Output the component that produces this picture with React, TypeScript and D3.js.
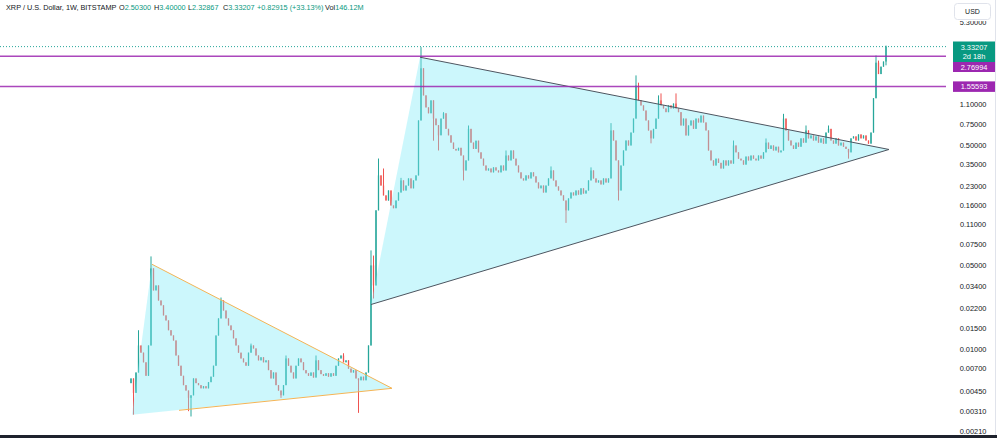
import React from 'react';
import * as d3 from 'd3';

// Weekly closes, XRP / USD (Bitstamp). Open of each bar is the previous close.
const closesA = [
  0.0058, 0.0044, 0.0065, 0.0109, 0.0095, 0.0079, 0.0061, 0.0109, 0.0477, 0.0313,
  0.0344, 0.0258, 0.0235, 0.0194, 0.0176, 0.0146, 0.0132, 0.012, 0.009, 0.0074,
  0.0061, 0.0051, 0.0046, 0.004, 0.0042, 0.0058, 0.0053, 0.0051, 0.0048, 0.005,
  0.0048, 0.0054, 0.006, 0.0074, 0.0132, 0.0183, 0.0258, 0.0213, 0.0183, 0.016,
  0.0146, 0.0125, 0.0109, 0.0095, 0.0085, 0.0079, 0.0074, 0.0095, 0.0109, 0.0103,
  0.009, 0.0082, 0.0087, 0.0079, 0.0082, 0.0068, 0.0058, 0.0065, 0.0051, 0.0046,
  0.0042, 0.0051, 0.0085, 0.0074, 0.0065, 0.0058, 0.0074, 0.0085, 0.0079, 0.0068,
  0.0064, 0.0061, 0.0065, 0.0059, 0.0082, 0.0068, 0.0063, 0.0061, 0.0064, 0.006,
  0.0064, 0.0061, 0.0074, 0.0085, 0.009, 0.0079, 0.0082, 0.007, 0.0065, 0.0068,
  0.0058, 0.0056, 0.006, 0.0056, 0.0065,
];
const closesB = [
  0.0109, 0.0505, 0.0344, 0.145, 0.283, 0.233, 0.193, 0.175, 0.212, 0.159,
  0.151, 0.175, 0.204, 0.257, 0.212, 0.233, 0.267, 0.221, 0.257, 0.283,
  0.81, 2.2, 1.31, 1.04, 0.93, 1.19, 0.84, 0.74, 0.61, 0.84,
  0.93, 0.69, 0.61, 0.53, 0.47, 0.456, 0.48, 0.414, 0.311, 0.377,
  0.69, 0.53, 0.47, 0.55, 0.44, 0.39, 0.342, 0.311, 0.323, 0.3,
  0.33, 0.311, 0.3, 0.342, 0.311, 0.414, 0.377, 0.456, 0.39, 0.342,
  0.3, 0.267, 0.257, 0.283, 0.267, 0.3, 0.278, 0.247, 0.221, 0.233,
  0.204, 0.233, 0.267, 0.311, 0.257, 0.229, 0.212, 0.193, 0.175, 0.145,
  0.182, 0.204, 0.193, 0.212, 0.196, 0.221, 0.2, 0.212, 0.257, 0.311,
  0.267, 0.247, 0.257, 0.238, 0.267, 0.247, 0.267,
];
const closesC = [
  0.669, 0.552, 0.377, 0.212, 0.342, 0.456, 0.552, 0.502, 0.643, 0.84,
  1.58, 1.19, 1.08, 0.98, 0.81, 0.669, 0.575, 0.69, 0.84, 1.19,
  1.08, 1.02, 0.95, 1.08, 1.02, 1.12, 1.02, 0.95, 0.736, 0.84,
  0.608, 0.736, 0.81, 0.69, 0.84, 0.78, 0.89, 0.78, 0.669, 0.456,
  0.377, 0.342, 0.39, 0.36, 0.323, 0.377, 0.342, 0.377, 0.355, 0.502,
  0.44, 0.39, 0.377, 0.348, 0.406, 0.377, 0.414, 0.39, 0.377, 0.414,
  0.39, 0.44, 0.53, 0.47, 0.502, 0.456, 0.49, 0.44, 0.456, 0.84,
  0.669, 0.552, 0.502, 0.47, 0.53, 0.49, 0.575, 0.53, 0.669, 0.575,
  0.608, 0.552, 0.597, 0.53, 0.575, 0.52, 0.643, 0.69, 0.552, 0.52,
  0.575, 0.502, 0.53, 0.49, 0.47, 0.44, 0.575, 0.597, 0.552, 0.62,
  0.575, 0.608, 0.552, 0.52, 0.643, 1.24, 2.45, 1.97, 2.27, 2.503,
  3.33207,
];
const firstOpen = 0.0053;

// Wick extremes beyond the bodies: [bar index, price]
const wickHighs: [number, number][] = [
  [3, 0.0146], [8, 0.06], [36, 0.0273], [48, 0.0113], [62, 0.009], [74, 0.009],
  [85, 0.0094], [96, 0.0673], [97, 0.061], [99, 0.391], [101, 0.323], [108, 0.27],
  [116, 3.3], [125, 0.95], [135, 0.736], [150, 0.456], [168, 0.336], [184, 0.33],
  [192, 0.77], [202, 1.92], [203, 1.67], [211, 1.31], [212, 1.36], [218, 1.36],
  [241, 0.552], [254, 0.574], [261, 0.92], [270, 0.736], [279, 0.736], [298, 2.81],
  [299, 2.55], [302, 3.4],
];
const wickLows: [number, number][] = [
  [1, 0.0029], [23, 0.0031], [24, 0.0028], [60, 0.004], [91, 0.003], [97, 0.0268],
  [121, 0.55], [123, 0.456], [133, 0.257], [174, 0.114], [195, 0.175], [208, 0.523],
  [287, 0.39], [302, 2.32867],
];

const priceTicks = [1.1, 0.75, 0.5, 0.35, 0.23, 0.16, 0.11, 0.075, 0.05, 0.034, 0.022, 0.015, 0.01, 0.007, 0.0045, 0.0031, 0.0021];
const levelLines = [2.76994, 1.55593];

// Triangle drawings, vertices as [bar index, price]
const triangleSmall: [number, number][] = [[0.4, 0.0029], [8.4, 0.0516], [104.4, 0.0048]];
const triangleSmallBaseStart: [number, number] = [19.2, 0.00315];
const triangleLarge: [number, number][] = [[96, 0.0239], [115.6, 2.72], [303.2, 0.465]];

const lastOpen = 2.503;
const lastHigh = 3.4;
const lastLow = 2.32867;
const lastClose = 3.33207;
const lastChange = 0.82915;
const lastChangePct = 33.13;
const lastVolume = '146.12M';
const barCountdown = '2d 18h';

const W = 997;
const H = 438;
const PANE_RIGHT = 946;
const UP = '#26a69a';
const DOWN = '#ef5350';
const TEXT = '#131722';
const GREEN = '#089981';
const PURPLE = '#9c27b0';
const TRI_FILL = 'rgba(128,235,248,0.4)';
const FONT = "'Liberation Sans', Arial, sans-serif";

export default function App() {
  const closes = [...closesA, ...closesB, ...closesC];
  const lastIdx = closes.length - 1;
  const x = d3.scaleLinear().domain([0, lastIdx]).range([131, 886]);
  const y = d3.scaleLog().domain([0.0021, 1.1]).range([431.5, 104.5]);

  const highMap = new Map(wickHighs);
  const lowMap = new Map(wickLows);
  const bars = closes.map((c, i) => {
    const o = i === 0 ? firstOpen : closes[i - 1];
    const h = Math.max(o, c, highMap.get(i) ?? 0);
    const l = Math.min(o, c, lowMap.get(i) ?? Infinity);
    return { i, o, h, l, c };
  });

  const pt = (p: [number, number]) => `${x(p[0])},${y(p[1])}`;
  const fmt = d3.format('.5f');
  const line = d3.line<[number, number]>().x((d) => x(d[0])).y((d) => y(d[1]));

  const hiddenTop = 5.3;

  return (
    <svg width={W} height={H} style={{ position: 'fixed', left: 0, top: 0, background: '#fff' }} fontFamily={FONT}>
      <rect x={0} y={0} width={W} height={H} fill="#fff" />

      {/* candles */}
      <g>
        {bars.map((b) => {
          const col = b.c >= b.o ? UP : DOWN;
          const top = y(Math.max(b.o, b.c));
          const bot = y(Math.min(b.o, b.c));
          return (
            <g key={b.i}>
              <line x1={x(b.i)} x2={x(b.i)} y1={y(b.h)} y2={y(b.l)} stroke={col} strokeWidth={1} />
              <rect x={x(b.i) - 0.65} y={top} width={1.3} height={Math.max(1, bot - top)} fill={col} />
            </g>
          );
        })}
      </g>

      {/* triangle drawings */}
      <polygon points={triangleSmall.map(pt).join(' ')} fill={TRI_FILL} />
      <polygon points={triangleLarge.map(pt).join(' ')} fill={TRI_FILL} />
      <path d={line([triangleSmall[1], triangleSmall[2]]) ?? ''} stroke="#f4b455" strokeWidth={1} fill="none" />
      <path d={line([triangleSmallBaseStart, triangleSmall[2]]) ?? ''} stroke="#f4b455" strokeWidth={1} fill="none" />
      <path d={line([triangleLarge[1], triangleLarge[2]]) ?? ''} stroke="#4d5560" strokeWidth={1} fill="none" />
      <path d={line([triangleLarge[0], triangleLarge[2]]) ?? ''} stroke="#4d5560" strokeWidth={1} fill="none" />

      {/* horizontal levels */}
      {levelLines.map((v) => (
        <line key={v} x1={0} x2={PANE_RIGHT} y1={y(v)} y2={y(v)} stroke={PURPLE} strokeWidth={1.5} strokeOpacity={0.85} />
      ))}
      {/* last price line */}
      <line x1={0} x2={PANE_RIGHT} y1={y(lastClose)} y2={y(lastClose)} stroke={UP} strokeWidth={1} strokeDasharray="1,2" />

      {/* price scale */}
      <g fontSize={7.4} fill={TEXT} textAnchor="middle">
        <text x={973} y={y(hiddenTop)} dominantBaseline="central">{fmt(hiddenTop)}</text>
        {priceTicks.map((v) => (
          <text key={v} x={973} y={y(v)} dominantBaseline="central">{fmt(v)}</text>
        ))}
      </g>

      {/* price labels */}
      <rect x={953} y={41.5} width={42} height={20.5} fill={GREEN} />
      <text x={974} y={47} fill="#fff" fontSize={7.4} textAnchor="middle" dominantBaseline="central">{fmt(lastClose)}</text>
      <text x={974} y={56.5} fill="#fff" fontSize={7.4} textAnchor="middle" dominantBaseline="central">{barCountdown}</text>
      <rect x={953} y={62} width={42} height={10} fill={PURPLE} />
      <text x={974} y={67} fill="#fff" fontSize={7.4} textAnchor="middle" dominantBaseline="central">{fmt(levelLines[0])}</text>
      <rect x={953} y={y(levelLines[1]) - 5} width={42} height={10.5} fill={PURPLE} />
      <text x={974} y={y(levelLines[1]) + 0.2} fill="#fff" fontSize={7.4} textAnchor="middle" dominantBaseline="central">{fmt(levelLines[1])}</text>

      {/* currency button over the top of the scale */}
      <rect x={947} y={0} width={48} height={21} fill="#fff" />
      <rect x={954.5} y={3.5} width={36} height={16} rx={3} fill="#fff" stroke="#e0e3eb" />
      <text x={972.5} y={11.8} fontSize={7} fill={TEXT} textAnchor="middle" dominantBaseline="central">USD</text>

      {/* legend */}
      <g fontSize={7.3} fill={TEXT}>
        <text x={6} y={10.3}>XRP / U.S. Dollar, 1W, BITSTAMP</text>
        <text x={119} y={10.3}>O<tspan fill={GREEN}>{fmt(lastOpen)}</tspan></text>
        <text x={154} y={10.3}>H<tspan fill={GREEN}>{fmt(lastHigh)}</tspan></text>
        <text x={188} y={10.3}>L<tspan fill={GREEN}>{fmt(lastLow)}</tspan></text>
        <text x={223} y={10.3}>C<tspan fill={GREEN}>{fmt(lastClose)}</tspan></text>
        <text x={257} y={10.3} fill={GREEN}>{`+${fmt(lastChange)} (+${lastChangePct.toFixed(2)}%)`}</text>
        <text x={325} y={10.3}>Vol<tspan fill={GREEN}>{lastVolume}</tspan></text>
      </g>

      {/* frame */}
      <line x1={995.5} x2={995.5} y1={0} y2={435} stroke="#e0e3eb" />
      <rect x={0} y={435} width={W} height={3} fill="#1e222d" />
    </svg>
  );
}
